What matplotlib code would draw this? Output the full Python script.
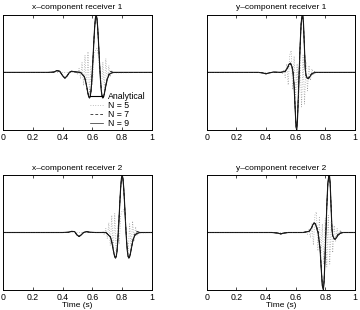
import matplotlib
matplotlib.use("Agg")
import matplotlib.pyplot as plt

plt.rcParams["font.family"] = ["Liberation Sans", "DejaVu Sans"]

# ---- x-component receiver 1 ----
T1 = [0.00, 0.30, 0.34, 0.36, 0.38, 0.40, 0.415, 0.43, 0.445, 0.46, 0.48, 0.52,
      0.545, 0.55, 0.555, 0.56, 0.565, 0.57, 0.575, 0.58, 0.585, 0.59, 0.595,
      0.60, 0.605, 0.61, 0.615, 0.62, 0.625, 0.63, 0.635, 0.64, 0.645, 0.65,
      0.655, 0.66, 0.665, 0.67, 0.675, 0.68, 0.685, 0.69, 0.695, 0.70, 0.71,
      0.72, 0.74, 1.00]
X1_ANA = [0, 0, 0.005, 0.03, 0.02, -0.06, -0.10, -0.06, 0.0, 0.02, 0.01, 0.0,
          -0.074, -0.115, -0.167, -0.231, -0.302, -0.371, -0.424, -0.446, -0.419,
          -0.328, -0.171, 0.047, 0.303, 0.565, 0.791, 0.945, 1.0, 0.945, 0.791,
          0.565, 0.303, 0.047, -0.171, -0.328, -0.419, -0.446, -0.424, -0.371,
          -0.302, -0.231, -0.167, -0.115, -0.05, -0.02, 0.0, 0]
X1_N7 = [0, 0, 0.005, 0.03, 0.02, -0.06, -0.10, -0.06, 0.0, 0.02, 0.01, 0.0,
         -0.07, -0.11, -0.16, -0.22, -0.29, -0.36, -0.41, -0.43, -0.41,
         -0.33, -0.16, 0.07, 0.31, 0.56, 0.78, 0.93, 0.98, 0.93, 0.78,
         0.56, 0.31, 0.07, -0.15, -0.31, -0.40, -0.43, -0.42, -0.37,
         -0.30, -0.23, -0.16, -0.10, -0.03, 0.02, 0.0, 0]
X1_N9 = [0, 0, 0.005, 0.03, 0.02, -0.06, -0.10, -0.06, 0.0, 0.02, 0.01, 0.0,
         -0.074, -0.115, -0.167, -0.23, -0.30, -0.37, -0.42, -0.44, -0.42,
         -0.33, -0.17, 0.05, 0.30, 0.56, 0.79, 0.94, 0.99, 0.94, 0.79,
         0.56, 0.30, 0.05, -0.17, -0.33, -0.42, -0.44, -0.42, -0.37,
         -0.30, -0.23, -0.167, -0.115, -0.05, -0.02, 0.0, 0]
T1_N5 = [0.00, 0.48, 0.49, 0.50, 0.51, 0.52, 0.53, 0.54, 0.55, 0.56, 0.57, 0.58,
         0.59, 0.60, 0.61, 0.62, 0.63, 0.64, 0.65, 0.66, 0.67, 0.68, 0.69, 0.70,
         0.71, 0.72, 0.73, 0.74, 1.00]
X1_N5 = [0, 0, 0.02, -0.04, 0.07, -0.11, 0.17, -0.23, 0.30, -0.30, 0.36, -0.38,
         0.12, -0.22, 0.30, 0.38, 0.42, 0.28, -0.05, -0.33, 0.18, -0.30, 0.24,
         -0.18, 0.12, -0.08, 0.04, -0.01, 0]

# ---- y-component receiver 1 ----
T2 = [0.00, 0.35, 0.38, 0.40, 0.42, 0.45, 0.50, 0.53, 0.545, 0.555, 0.565, 0.575,
      0.582, 0.59, 0.597, 0.603, 0.607, 0.612, 0.618, 0.624, 0.63, 0.637, 0.643,
      0.648, 0.653, 0.659, 0.665, 0.67, 0.678, 0.686, 0.695, 0.705, 0.72, 0.74, 1.00]
Y1_ANA = [0, 0, -0.01, -0.025, -0.01, 0.005, 0, 0.02, 0.08, 0.14, 0.16, 0.10,
          0.0, -0.25, -0.65, -0.95, -1.0, -0.85, -0.45, 0.0, 0.45, 0.85, 0.98,
          1.0, 0.85, 0.45, 0.05, -0.05, -0.10, -0.11, -0.08, -0.04, -0.01, 0, 0]
Y1_N7 = [0, 0, -0.01, -0.025, -0.01, 0.005, 0, 0.02, 0.07, 0.13, 0.15, 0.11,
         0.04, -0.22, -0.62, -0.93, -0.98, -0.84, -0.44, 0.04, 0.43, 0.83, 0.96,
         0.98, 0.84, 0.46, 0.08, -0.06, -0.11, -0.10, -0.06, -0.03, 0.01, 0, 0]
Y1_N9 = [0, 0, -0.01, -0.025, -0.01, 0.005, 0, 0.02, 0.08, 0.14, 0.16, 0.10,
         0.01, -0.24, -0.64, -0.95, -0.99, -0.85, -0.45, 0.01, 0.45, 0.85, 0.97,
         0.99, 0.85, 0.45, 0.06, -0.05, -0.10, -0.11, -0.08, -0.04, -0.01, 0, 0]
T2_N5 = [0.00, 0.49, 0.50, 0.51, 0.52, 0.53, 0.54, 0.55, 0.56, 0.57, 0.58, 0.59,
         0.60, 0.61, 0.62, 0.63, 0.64, 0.65, 0.66, 0.67, 0.68, 0.69, 0.70, 0.71,
         0.72, 0.73, 0.74, 1.00]
Y1_N5 = [0, 0, 0.02, -0.03, 0.05, -0.09, 0.15, -0.22, 0.30, 0.38, -0.30, 0.28,
         -0.45, 0.15, -0.55, 0.25, -0.60, 0.30, -0.55, 0.18, -0.32, 0.12, -0.14,
         0.06, -0.04, 0.02, 0, 0]

# ---- x-component receiver 2 ----
T3 = [0.00, 0.40, 0.44, 0.46, 0.48, 0.495, 0.51, 0.525, 0.54, 0.56, 0.58, 0.62,
      0.69, 0.72, 0.725, 0.73, 0.735, 0.74, 0.745, 0.75, 0.755, 0.76, 0.765,
      0.77, 0.775, 0.78, 0.785, 0.79, 0.795, 0.80, 0.805, 0.81, 0.815, 0.82,
      0.825, 0.83, 0.835, 0.84, 0.845, 0.85, 0.855, 0.86, 0.865, 0.87, 0.875,
      0.885, 0.90, 0.92, 1.00]
X2_ANA = [0, 0, 0.005, 0.02, 0.015, -0.04, -0.07, -0.04, 0.0, 0.015, 0.005, 0.0,
          0.0, -0.074, -0.115, -0.167, -0.231, -0.302, -0.371, -0.424, -0.446,
          -0.419, -0.328, -0.171, 0.047, 0.303, 0.565, 0.791, 0.945, 1.0, 0.945,
          0.791, 0.565, 0.303, 0.047, -0.171, -0.328, -0.419, -0.446, -0.424,
          -0.371, -0.302, -0.231, -0.167, -0.115, -0.05, -0.015, 0, 0]
X2_N7 = [0, 0, 0.005, 0.02, 0.015, -0.04, -0.07, -0.04, 0.0, 0.015, 0.005, 0.0,
         0.0, -0.07, -0.11, -0.16, -0.22, -0.29, -0.36, -0.41, -0.44,
         -0.42, -0.33, -0.15, 0.07, 0.31, 0.56, 0.78, 0.93, 0.98, 0.93,
         0.78, 0.56, 0.31, 0.07, -0.15, -0.31, -0.41, -0.44, -0.43,
         -0.37, -0.30, -0.23, -0.16, -0.10, -0.03, 0.02, 0, 0]
X2_N9 = [0, 0, 0.005, 0.02, 0.015, -0.04, -0.07, -0.04, 0.0, 0.015, 0.005, 0.0,
         0.0, -0.074, -0.115, -0.167, -0.23, -0.30, -0.37, -0.42, -0.445,
         -0.42, -0.33, -0.17, 0.05, 0.30, 0.56, 0.79, 0.94, 0.99, 0.94,
         0.79, 0.56, 0.30, 0.05, -0.17, -0.33, -0.42, -0.445, -0.42,
         -0.37, -0.30, -0.23, -0.167, -0.115, -0.05, -0.015, 0, 0]
T3_N5 = [0.00, 0.66, 0.67, 0.68, 0.69, 0.70, 0.71, 0.72, 0.73, 0.74, 0.75, 0.76,
         0.77, 0.78, 0.79, 0.80, 0.81, 0.82, 0.83, 0.84, 0.85, 0.86, 0.87, 0.88,
         0.89, 0.90, 0.91, 0.92, 1.00]
X2_N5 = [0, 0, 0.02, -0.04, 0.07, -0.11, 0.17, -0.23, 0.30, -0.35, 0.33, -0.42,
         0.12, -0.20, 0.30, 0.38, 0.40, 0.25, -0.08, -0.38, 0.15, -0.28, 0.20,
         -0.15, 0.10, -0.06, 0.03, -0.01, 0]

# ---- y-component receiver 2 ----
T4 = [0.00, 0.44, 0.48, 0.50, 0.52, 0.55, 0.65, 0.69, 0.705, 0.715, 0.725, 0.735,
      0.745, 0.752, 0.765, 0.773, 0.78, 0.787, 0.792, 0.798, 0.804, 0.81, 0.817,
      0.823, 0.828, 0.833, 0.839, 0.845, 0.85, 0.858, 0.866, 0.875, 0.885, 0.90,
      0.92, 1.00]
Y2_ANA = [0, 0, -0.01, -0.025, -0.01, 0, 0, 0.02, 0.07, 0.13, 0.17, 0.14,
          0.05, -0.02, -0.30, -0.65, -0.93, -1.0, -0.85, -0.45, 0.0, 0.45, 0.85,
          0.98, 1.0, 0.85, 0.45, 0.05, -0.05, -0.10, -0.12, -0.09, -0.05, -0.015, 0, 0]
Y2_N7 = [0, 0, -0.01, -0.025, -0.01, 0, 0, 0.02, 0.06, 0.12, 0.16, 0.15,
         0.08, 0.02, -0.27, -0.62, -0.91, -0.98, -0.84, -0.43, 0.04, 0.44, 0.83,
         0.96, 0.98, 0.84, 0.46, 0.08, -0.06, -0.11, -0.11, -0.07, -0.03, 0.01, 0, 0]
Y2_N9 = [0, 0, -0.01, -0.025, -0.01, 0, 0, 0.02, 0.07, 0.13, 0.17, 0.14,
         0.05, -0.01, -0.29, -0.64, -0.93, -0.99, -0.85, -0.45, 0.01, 0.45, 0.85,
         0.97, 0.99, 0.85, 0.45, 0.06, -0.05, -0.10, -0.12, -0.09, -0.05, -0.015, 0, 0]
T4_N5 = [0.00, 0.66, 0.67, 0.68, 0.69, 0.70, 0.71, 0.72, 0.73, 0.74, 0.75, 0.76,
         0.77, 0.78, 0.79, 0.80, 0.81, 0.82, 0.83, 0.84, 0.85, 0.86, 0.87, 0.88,
         0.89, 0.90, 0.91, 0.92, 1.00]
Y2_N5 = [0, 0, 0.02, -0.03, 0.05, -0.09, 0.15, -0.22, 0.30, 0.36, -0.32, 0.26,
         -0.45, 0.15, -0.55, 0.25, -0.60, 0.30, -0.55, 0.20, -0.35, 0.12, -0.15,
         0.07, -0.05, 0.03, -0.01, 0, 0]

TITLES = ["x\u2013component receiver 1", "y\u2013component receiver 1",
          "x\u2013component receiver 2", "y\u2013component receiver 2"]
LABELS = ["Analytical", "N = 5", "N = 7", "N = 9"]

panels = [
    (T1, X1_ANA, T1_N5, X1_N5, X1_N7, X1_N9),
    (T2, Y1_ANA, T2_N5, Y1_N5, Y1_N7, Y1_N9),
    (T3, X2_ANA, T3_N5, X2_N5, X2_N7, X2_N9),
    (T4, Y2_ANA, T4_N5, Y2_N5, Y2_N7, Y2_N9),
]

# axes boxes in figure fractions [left, bottom, width, height]
boxes = [
    [0.009, 0.581, 0.413, 0.371],
    [0.574, 0.581, 0.412, 0.371],
    [0.009, 0.065, 0.413, 0.370],
    [0.574, 0.065, 0.412, 0.370],
]

fig = plt.figure(figsize=(3.6, 3.1), dpi=100)

for i, (t, ana, t5, n5, n7, n9) in enumerate(panels):
    ax = fig.add_axes(boxes[i])
    ax.plot(t, ana, color="black", linewidth=0.8, label=LABELS[0])
    ax.plot(t5, n5, color="#999999", linestyle=(0, (1, 2.2)), linewidth=0.55, label=LABELS[1])
    ax.plot(t, n7, color="black", linestyle=(0, (4, 3)), linewidth=0.5, label=LABELS[2])
    ax.plot(t, n9, color="#222222", linewidth=0.5, label=LABELS[3])
    ax.set_xlim(0, 1)
    ax.set_ylim(-1, 1)
    ax.set_xticks([0, 0.2, 0.4, 0.6, 0.8, 1.0])
    ax.set_xticklabels(["0", "0.2", "0.4", "0.6", "0.8", "1"], fontsize=6.3)
    ax.set_yticks([])
    ax.tick_params(axis="x", direction="in", top=True, length=2.5, width=0.5, pad=2.5)
    for s in ax.spines.values():
        s.set_linewidth(0.7)
    ax.set_title(TITLES[i], fontsize=6, pad=4)
    if i >= 2:
        ax.set_xlabel("Time (s)", fontsize=6, labelpad=0)
    if i == 0:
        ax.legend(loc="upper left", bbox_to_anchor=(0.585, 0.33), frameon=False,
                  fontsize=6.3, handlelength=1.5, handletextpad=0.5,
                  labelspacing=0.0, borderpad=0.0, borderaxespad=0.0)

fig.savefig("out.png", dpi=100)
